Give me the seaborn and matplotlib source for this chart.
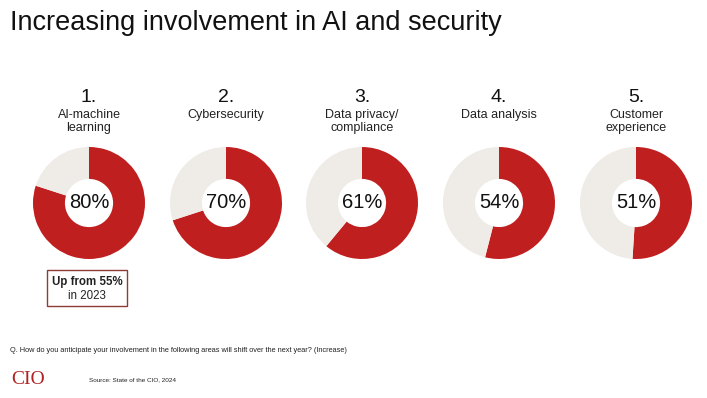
import matplotlib
matplotlib.use("Agg")
import matplotlib.pyplot as plt
import seaborn as sns

# chart data
ranks = ["1.", "2.", "3.", "4.", "5."]
areas = ["AI-machine\nlearning", "Cybersecurity", "Data privacy/\ncompliance",
         "Data analysis", "Customer\nexperience"]
shares = [80, 70, 61, 54, 51]

red = "#C01F1F"
light = "#EFEBE6"

sns.set_theme(style="white")
plt.rcParams["font.family"] = ["Liberation Sans", "DejaVu Sans"]

W, H = 707, 398
fig = plt.figure(figsize=(W / 100, H / 100), dpi=100)
fig.patch.set_facecolor("white")

fig.text(10 / W, 1 - 23 / H, "Increasing involvement in AI and security",
         fontsize=19.5, color="#111111", va="center", ha="left")

centers = [89, 226, 362, 499, 636]
cy = 203
r = 56

for cx, rank, area, val in zip(centers, ranks, areas, shares):
    ax = fig.add_axes([(cx - r) / W, 1 - (cy + r) / H, 2 * r / W, 2 * r / H])
    ax.pie([val, 100 - val], colors=[red, light], startangle=90, counterclock=False,
           radius=1.0, wedgeprops=dict(width=0.57, edgecolor="none"))
    ax.set_xlim(-1, 1)
    ax.set_ylim(-1, 1)
    ax.set_aspect("equal")
    ax.text(0, 0, f"{val}%", ha="center", va="center", fontsize=14.5, color="#111111")
    ax.axis("off")

    fig.text(cx / W, 1 - 98 / H, rank, ha="center", va="center", fontsize=14, color="#111111")
    fig.text(cx / W, 1 - 109 / H, area, ha="center", va="top", fontsize=9,
             color="#222222", linespacing=1.15)

# callout box under the first donut
fig.text(87 / W, 1 - 282 / H, "Up from 55%", ha="center", va="center",
         fontsize=8.3, fontweight="bold", color="#222222")
fig.text(87 / W, 1 - 296 / H, "in 2023", ha="center", va="center",
         fontsize=8.3, color="#222222")
box = plt.Rectangle((47 / W, 1 - 306 / H), 80 / W, 36 / H, transform=fig.transFigure,
                    fill=False, edgecolor="#8E3A36", linewidth=1.0)
fig.patches.append(box)

fig.text(10 / W, 1 - 350 / H,
         "Q. How do you anticipate your involvement in the following areas will shift over the next year? (Increase)",
         fontsize=5.3, color="#222222", va="center", ha="left")
fig.text(11 / W, 1 - 380 / H, "CIO", fontsize=14, color="#B22222",
         family=["Liberation Serif", "DejaVu Serif"], va="center", ha="left")
fig.text(89 / W, 1 - 380 / H, "Source: State of the CIO, 2024", fontsize=4.6,
         color="#222222", va="center", ha="left")

fig.savefig("out.png", dpi=100, facecolor="white")
